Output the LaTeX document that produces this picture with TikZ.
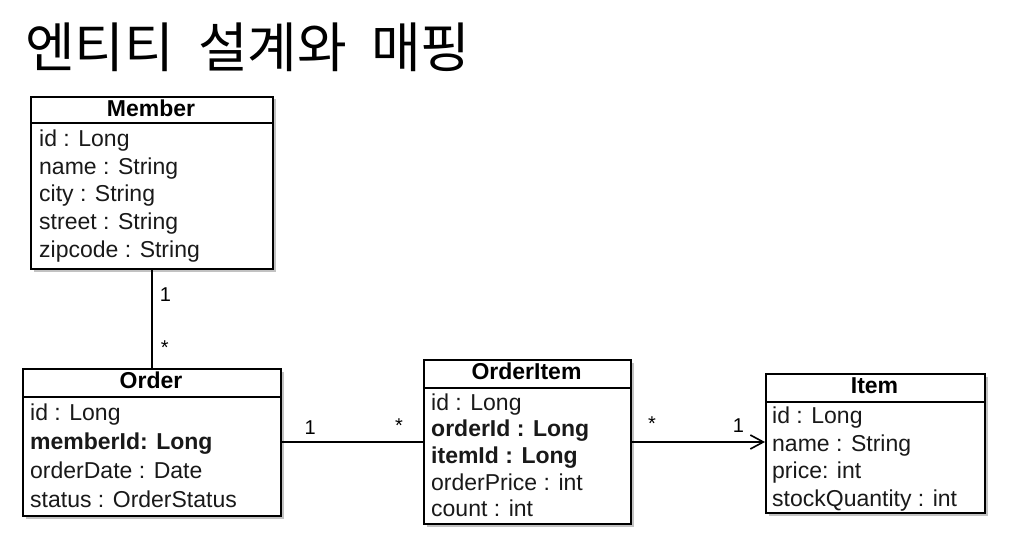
\documentclass[tikz,border=0pt]{standalone}
\usepackage{fontspec}
\setmainfont{Liberation Sans}
\newfontfamily\krfont{Noto Sans CJK KR}
\usetikzlibrary{arrows.meta,shadows}

\begin{document}
\begin{tikzpicture}[x=1pt, y=-1pt,
  cls/.style={draw, line width=2pt, fill=white, inner sep=0pt, anchor=north west,
    drop shadow={shadow xshift=2.5pt, shadow yshift=-2.5pt, opacity=0.4, fill=black!60}},
  hdr/.style={font=\fontsize{23}{26}\selectfont\bfseries, inner sep=0pt, anchor=base},
  attr/.style={font=\fontsize{23}{27}\selectfont, text=black!90, inner sep=0pt, anchor=base west},
  key/.style={attr, font=\fontsize{23}{27}\selectfont\bfseries},
  sep/.style={line width=1.6pt},
  rel/.style={line width=1.8pt},
  mult/.style={font=\fontsize{20}{22}\selectfont, inner sep=0pt}]
  \useasboundingbox (0,0) rectangle (1025,540);
  % title
  \node[font={\krfont\fontsize{54}{60}\selectfont\spaceskip=24pt\relax}, inner sep=0pt, anchor=west] (title) at (25,47) {엔티티 설계와 매핑};
  % class boxes
  \node[cls, minimum width=242pt, minimum height=172pt] (member) at (30,96) {};
  \node[cls, minimum width=258pt, minimum height=147pt] (order) at (22,368) {};
  \node[cls, minimum width=207pt, minimum height=164pt] (oi) at (423,359) {};
  \node[cls, minimum width=219pt, minimum height=139pt] (item) at (765,373) {};
  % Member
  \node[hdr] (memberH) at (151,117) {Member};
  \draw[sep] (member.west |- 0,123) -- (member.east |- 0,123);
  \node[attr] (mId) at (39,147) {id : Long};
  \node[attr] (mName) at (39,174.5) {name : String};
  \node[attr] (mCity) at (39,202) {city : String};
  \node[attr] (mStreet) at (39,229.5) {street : String};
  \node[attr] (mZip) at (39,257) {zipcode : String};
  % Order
  \node[hdr] (orderH) at (151,388) {Order};
  \draw[sep] (order.west |- 0,397) -- (order.east |- 0,397);
  \node[attr] (oId) at (30,420) {id : Long};
  \node[key] (oMember) at (30,449) {memberId: Long};
  \node[attr] (oDate) at (30,478) {orderDate : Date};
  \node[attr] (oStatus) at (30,507) {status : OrderStatus};
  % OrderItem
  \node[hdr] (oiH) at (526.5,379) {OrderItem};
  \draw[sep] (oi.west |- 0,388) -- (oi.east |- 0,388);
  \node[attr] (iId) at (431,410) {id : Long};
  \node[key] (iOrder) at (431,436.5) {orderId : Long};
  \node[key] (iItem) at (431,463) {itemId : Long};
  \node[attr] (iPrice) at (431,490) {orderPrice : int};
  \node[attr] (iCount) at (431,516.5) {count : int};
  % Item
  \node[hdr] (itemH) at (874.5,393) {Item};
  \draw[sep] (item.west |- 0,402) -- (item.east |- 0,402);
  \node[attr] (tId) at (772,423) {id : Long};
  \node[attr] (tName) at (772,451) {name : String};
  \node[attr] (tPrice) at (772,478) {price: int};
  \node[attr] (tStock) at (772,506) {stockQuantity : int};
  % relations
  \draw[rel] (member.south) -- node[mult, pos=0.25, right=7pt] (r1a) {1}
    node[mult, pos=0.79, right=8pt] (r1b) {*} (order.north);
  \draw[rel] (order.east |- oi.west) -- node[mult, pos=0.2, above=7pt] (r2a) {1}
    node[mult, pos=0.83, above=9pt] (r2b) {*} (oi.west);
  \draw[rel, -{Straight Barb[length=13pt, width=14pt, line width=1.6pt]}] (oi.east)
    -- node[mult, pos=0.15, above=11pt] (r3a) {*}
    node[mult, pos=0.8, above=9pt] (r3b) {1} (oi.east -| item.west);
\end{tikzpicture}
\end{document}
